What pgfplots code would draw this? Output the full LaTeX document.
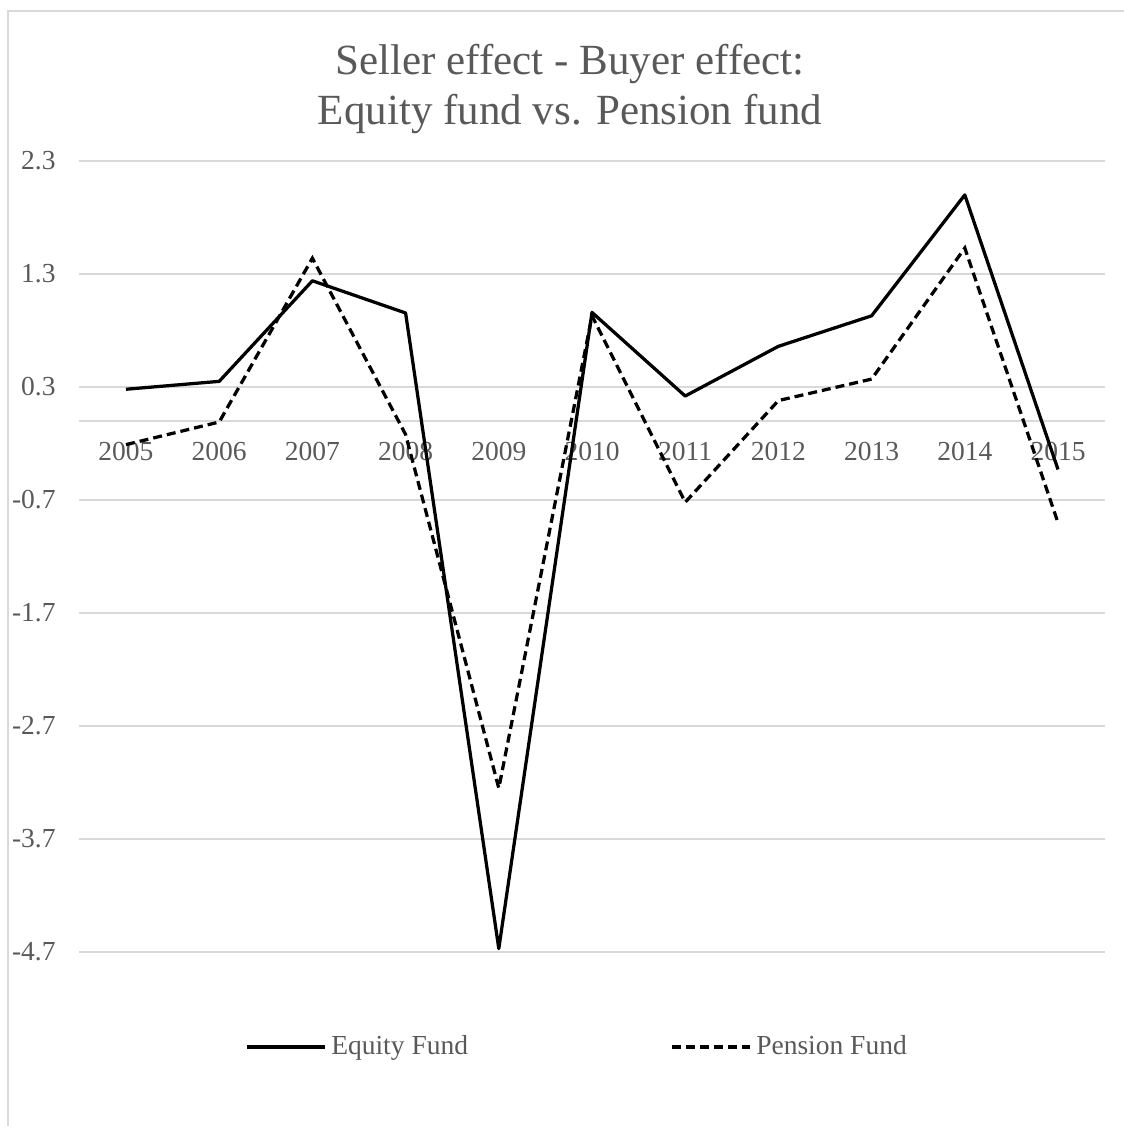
\documentclass[border=0pt]{standalone}
\usepackage{pgfplots}
\pgfplotsset{compat=1.18}
\usepackage{fontspec}
\setmainfont{Liberation Serif}
\definecolor{gridgray}{HTML}{D9D9D9}
\definecolor{txtgray}{HTML}{595959}
\begin{document}
\begin{tikzpicture}
\useasboundingbox (0pt,0pt) rectangle (449.6pt,450.4pt);
\draw[gridgray, line width=0.8pt] (3pt,-5pt) -- (3pt,445.8pt) -- (455pt,445.8pt);
\node[anchor=base, text=txtgray, font=\fontsize{17.2}{20}\selectfont] at (228pt,420.4pt) {Seller effect - Buyer effect:};
\node[anchor=base, text=txtgray, font=\fontsize{17.2}{20}\selectfont] at (228pt,400.4pt) {Equity fund vs. Pension fund};
\begin{axis}[
  at={(31.76pt,69.6pt)}, anchor=south west,
  scale only axis, width=410.08pt, height=316.4pt,
  xmin=-0.5, xmax=10.5, ymin=-4.7, ymax=2.3,
  axis x line=middle, axis y line=left,
  x axis line style={gridgray, line width=0.8pt, -},
  y axis line style={draw=none},
  xtick={0,...,10},
  xticklabels={2005,2006,2007,2008,2009,2010,2011,2012,2013,2014,2015},
  ytick={-4.7,-3.7,-2.7,-1.7,-0.7,0.3,1.3,2.3},
  yticklabels={-4.7,-3.7,-2.7,-1.7,-0.7,0.3,1.3,2.3},
  major tick length=0pt,
  tick style={draw=none},
  ymajorgrids, grid style={gridgray, line width=0.8pt},
  tick label style={text=txtgray, font=\fontsize{11}{13}\selectfont},
  xticklabel style={anchor=north, yshift=-5pt},
  yticklabel style={anchor=east, xshift=-6pt},
  clip=false,
  legend columns=2,
  legend style={at={(0.487,-0.120)}, anchor=center, draw=none, fill=none,
    font=\fontsize{11}{13}\selectfont, text=txtgray,
    /tikz/every even column/.append style={column sep=79pt}},
  legend image code/.code={\draw[#1] (0pt,0pt) -- (31pt,0pt);},
]
\addplot[black, line width=1.3pt, line join=round] coordinates {
(0,0.28) (1,0.35) (2,1.24) (3,0.955) (4,-4.67) (5,0.96) (6,0.22) (7,0.66) (8,0.93) (9,2.00) (10,-0.43)};
\addlegendentry{Equity Fund}
\addplot[black, line width=1.3pt, dash pattern=on 3.6pt off 2pt] coordinates {
(0,-0.21) (1,-0.01) (2,1.44) (3,-0.12) (4,-3.25) (5,0.93) (6,-0.72) (7,0.18) (8,0.37) (9,1.53) (10,-0.90)};
\addlegendentry{Pension Fund}
\end{axis}
\end{tikzpicture}
\end{document}
